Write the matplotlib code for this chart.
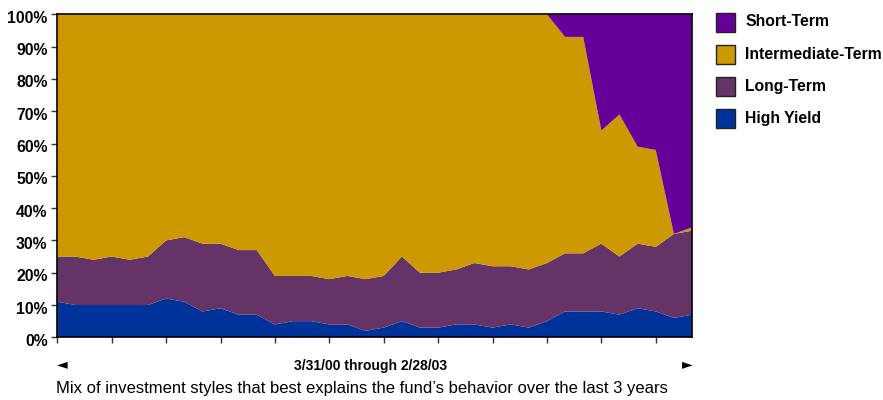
import matplotlib
matplotlib.use("Agg")
import matplotlib.pyplot as plt
import matplotlib.transforms as mtransforms
from matplotlib import font_manager
from matplotlib.patches import Rectangle
import numpy as np

plt.rcParams['font.family'] = ['Liberation Sans', 'DejaVu Sans']
available = {f.name for f in font_manager.fontManager.ttflist}
narrow_family = 'Liberation Sans Narrow' if 'Liberation Sans Narrow' in available else 'Liberation Sans'

# Monthly style mix, 3/31/00 through 2/28/03 (36 months), percent
high_yield = [11, 10, 10, 10, 10, 10, 12, 11, 8, 9, 7, 7, 4, 5, 5, 4, 4, 2,
              3, 5, 3, 3, 4, 4, 3, 4, 3, 5, 8, 8, 8, 7, 9, 8, 6, 7]
long_term = [14, 15, 14, 15, 14, 15, 18, 20, 21, 20, 20, 20, 15, 14, 14, 14, 15, 16,
             16, 20, 17, 17, 17, 19, 19, 18, 18, 18, 18, 18, 21, 18, 20, 20, 26, 26]
short_term = [0] * 28 + [7, 7, 36, 31, 41, 42, 68, 66]
intermediate = [100 - h - l - s for h, l, s in zip(high_yield, long_term, short_term)]

series_names = ["High Yield", "Long-Term", "Intermediate-Term", "Short-Term"]
series_colors = ["#003399", "#663366", "#CC9900", "#660099"]
y_ticks = [0, 10, 20, 30, 40, 50, 60, 70, 80, 90, 100]
y_tick_labels = [f"{v}%" for v in y_ticks]
x_label = "3/31/00 through 2/28/03"
caption = "Mix of investment styles that best explains the fund\u2019s behavior over the last 3 years"

fig = plt.figure(figsize=(8.83, 4.0), dpi=100)
ax = fig.add_axes([57.3 / 883, 1 - 337.3 / 400, (692 - 57.3) / 883, (337.3 - 14.3) / 400])

x = np.arange(len(high_yield))
ax.stackplot(x, high_yield, long_term, intermediate, short_term,
             colors=series_colors, linewidth=0)

ax.set_xlim(0, len(x) - 1)
ax.set_ylim(0, 100)
ax.set_yticks(y_ticks)
ax.set_yticklabels(y_tick_labels, fontsize=11.3, fontweight='bold')
ax.set_xticks(np.arange(0, len(x), 3))
ax.set_xticklabels([])
ax.tick_params(axis='y', length=4, width=1, color='#333333', pad=3)
ax.tick_params(axis='x', length=4, width=1, color='#333333')
offset = mtransforms.ScaledTranslation(0, -2.5 / 100, fig.dpi_scale_trans)
for lab in ax.get_yticklabels():
    lab.set_transform(lab.get_transform() + offset)
for sp in ax.spines.values():
    sp.set_color('black')
    sp.set_linewidth(1.2)

# bottom annotations
fig.text(62 / 883, 1 - 364 / 400, "\u25C4", fontsize=10, ha='center', va='center', family=['DejaVu Sans'])
fig.text(687 / 883, 1 - 364 / 400, "\u25BA", fontsize=10, ha='center', va='center', family=['DejaVu Sans'])
if narrow_family == 'Liberation Sans Narrow':
    fig.text(371 / 883, 1 - 366 / 400, x_label, fontsize=11.5, fontweight='bold', ha='center',
             va='center', family=[narrow_family, 'DejaVu Sans'])
else:
    fig.text(371 / 883, 1 - 366 / 400, x_label, fontsize=10, fontweight='bold', ha='center', va='center')
fig.text(56 / 883, 1 - 389 / 400, caption, fontsize=12, ha='left', va='center')

# legend (top to bottom: Short, Intermediate, Long, High Yield)
legend_order = [3, 2, 1, 0]
for row, idx in enumerate(legend_order):
    yc = 22 + row * 32.2
    fig.patches.append(Rectangle((716 / 883, 1 - (yc + 9.5) / 400), 19 / 883, 19 / 400,
                                 transform=fig.transFigure, facecolor=series_colors[idx],
                                 edgecolor='#222222', linewidth=1.0))
    fig.text(745 / 883, 1 - yc / 400, series_names[idx], fontsize=11.3, fontweight='bold',
             ha='left', va='center')

fig.savefig("out.png", dpi=100)
